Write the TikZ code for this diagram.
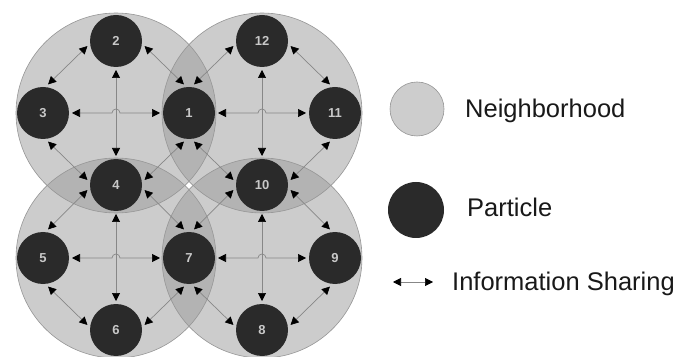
\documentclass[tikz,border=0pt]{standalone}
\usepackage{fontspec}
\setmainfont{Liberation Sans}
\usetikzlibrary{arrows.meta}
\definecolor{hoodfill}{RGB}{155,155,155}
\definecolor{hoodline}{RGB}{150,150,150}
\definecolor{partfill}{RGB}{42,42,42}
\definecolor{linkgray}{RGB}{135,135,135}
\definecolor{labelgray}{RGB}{200,200,200}
\tikzset{
  hoodborder/.style={draw=hoodline, line width=0.6pt},
  particle/.style={circle, fill=partfill, draw=none, minimum size=52pt, inner sep=0pt, outer sep=3pt,
    text=labelgray, font=\bfseries\fontsize{13}{15}\selectfont},
  link/.style={draw=linkgray, line width=0.7pt,
    {Triangle[length=8pt,width=8pt,color=black]}-{Triangle[length=8pt,width=8pt,color=black]}},
  legtext/.style={anchor=base west, inner sep=0pt, font=\fontsize{25.5}{30}\selectfont, text=black!90}
}
\begin{document}
\begin{tikzpicture}[x=1pt,y=1pt]
\clip (0,0) rectangle (679,356);
\fill[white] (0,0) rectangle (679,356);
% neighborhoods
\foreach \cx/\cy in {116/243,262/243,116/98,262/98}{
  \fill[hoodfill, fill opacity=0.5] (\cx,\cy) circle[radius=100];
}
\foreach \cx/\cy in {116/243,262/243,116/98,262/98}{
  \draw[hoodborder] (\cx,\cy) circle[radius=100];
}
% particles
\node[particle] (n2)  at (116,315) {2};
\node[particle] (n3)  at (43,243)  {3};
\node[particle] (n1)  at (189,243) {1};
\node[particle] (n4)  at (116,171) {4};
\node[particle] (n12) at (262,315) {12};
\node[particle] (n11) at (335,243) {11};
\node[particle] (n10) at (262,171) {10};
\node[particle] (n5)  at (43,98)   {5};
\node[particle] (n7)  at (189,98)  {7};
\node[particle] (n6)  at (116,26)  {6};
\node[particle] (n9)  at (335,98)  {9};
\node[particle] (n8)  at (262,26)  {8};
% information sharing links
\foreach \T/\L/\R/\B/\cx/\cy in {2/3/1/4/116/243, 12/1/11/10/262/243, 4/5/7/6/116/98, 10/7/9/8/262/98}{
  \draw[link] (n\T.190) -- (n\L.80);
  \draw[link] (n\T.-10) -- (n\R.100);
  \draw[link] (n\L.-80) -- (n\B.170);
  \draw[link] (n\R.-100) -- (n\B.10);
  \draw[link] (n\T.south) -- (n\B.north);
  \draw[link] (n\L.east) -- (\cx-4,\cy) arc[start angle=180,end angle=0,radius=4] -- (n\R.west);
}
% legend
\node[circle, fill=hoodfill!50!white, draw=hoodline, line width=0.6pt, minimum size=54pt, inner sep=0pt] (lhood) at (417,247) {};
\node[legtext] (thood) at (465,238) {Neighborhood};
\node[circle, fill=partfill, minimum size=56pt, inner sep=0pt] (lpart) at (416,146) {};
\node[legtext] (tpart) at (467,139) {Particle};
\coordinate (la) at (393,74);
\coordinate (lb) at (433,74);
\draw[link] (la) -- (lb);
\node[legtext] (tinfo) at (452,66) {Information Sharing};
\end{tikzpicture}
\end{document}
